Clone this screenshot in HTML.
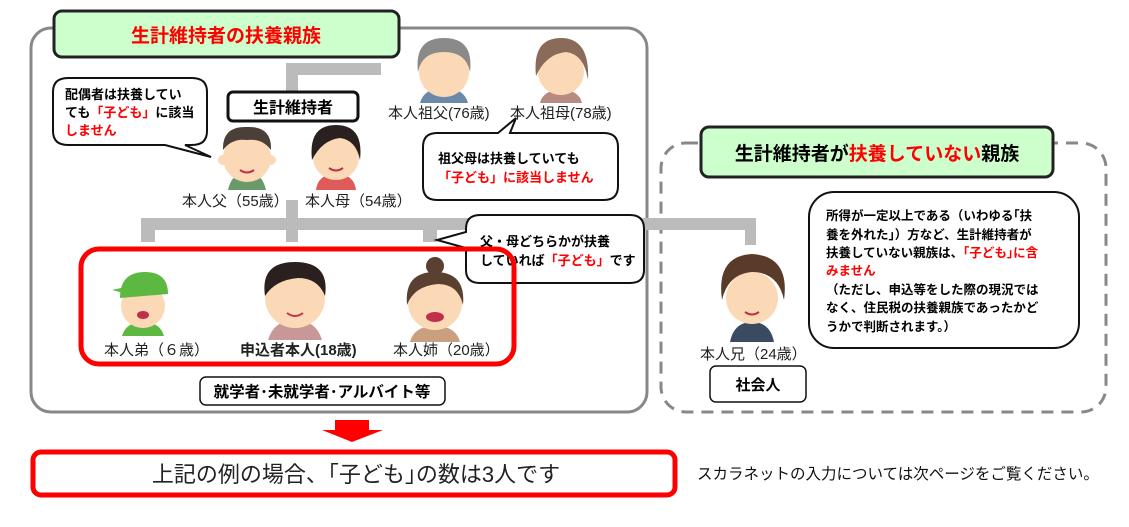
<!DOCTYPE html>
<html><head><meta charset="utf-8"><style>
html,body{margin:0;padding:0;background:#fff;}
svg{display:block;font-family:"Liberation Sans","Noto Sans CJK JP",sans-serif;}
.b{font-weight:bold;}
</style></head><body>
<svg width="1129" height="527" viewBox="0 0 1129 527" xmlns="http://www.w3.org/2000/svg">
<rect x="31" y="28" width="616" height="384" rx="20" fill="#fff" stroke="#888" stroke-width="3"/>
<rect x="661" y="143" width="445" height="269" rx="25" fill="none" stroke="#888" stroke-width="3" stroke-dasharray="12,8"/>
<g fill="#bbb">
<rect x="286" y="63" width="95" height="12"/>
<rect x="286" y="63" width="12" height="30"/>
<rect x="286" y="200" width="12" height="42"/>
<rect x="141" y="218" width="615" height="12"/>
<rect x="141" y="218" width="14" height="24"/>
<rect x="423" y="218" width="14" height="24"/>
<rect x="745" y="218" width="11" height="27"/>
</g>
<rect x="54" y="11" width="345" height="46" rx="8" fill="#ccffcc" stroke="#222" stroke-width="3"/>
<text x="226" y="42" text-anchor="middle" font-size="19" class="b" fill="#f00">生計維持者の扶養親族</text>
<rect x="228" y="92" width="130" height="29" rx="5" fill="#fff" stroke="#111" stroke-width="3"/>
<text x="293" y="113" text-anchor="middle" font-size="16" class="b">生計維持者</text>
<path d="M68,78 H192 Q207,78 207,92 V131 Q207,145 192,145 H185 L211,157 L165,145 H68 Q53,145 53,131 V92 Q53,78 68,78 Z" fill="#fff" stroke="#111" stroke-width="2"/>
<text font-size="13" class="b"><tspan x="65" y="99">配偶者は扶養してい</tspan><tspan x="65" y="117">ても<tspan fill="#f00">「子ども」</tspan>に該当</tspan><tspan x="65" y="135" fill="#f00">しません</tspan></text>
<path d="M437,133 H498 L516,118 L510,133 H604 Q618,133 618,147 V186 Q618,200 604,200 H437 Q423,200 423,186 V147 Q423,133 437,133 Z" fill="#fff" stroke="#111" stroke-width="2"/>
<text font-size="13" class="b"><tspan x="438" y="163">祖父母は扶養していても</tspan><tspan x="438" y="182" fill="#f00">「子ども」に該当しません</tspan></text>
<path d="M480,215 H630 Q644,215 644,229 V270 Q644,283 630,283 H480 Q466,283 466,270 V248 L437,240 L466,232 V229 Q466,215 480,215 Z" fill="#fff" stroke="#111" stroke-width="2"/>
<text font-size="13" class="b"><tspan x="480" y="246">父・母どちらかが扶養</tspan><tspan x="480" y="265">していれば<tspan fill="#f00">「子ども」</tspan>です</tspan></text>
<rect x="81" y="249" width="433" height="115" rx="18" fill="none" stroke="#f00" stroke-width="5"/>
<g>
<path d="M228,190 Q232,172 247,172 Q262,172 266,190 Z" fill="#6a9a6a"/>
<circle cx="247" cy="158" r="24" fill="#fcd9b6"/><circle cx="223" cy="160" r="5" fill="#fcd9b6"/><circle cx="271" cy="160" r="5" fill="#fcd9b6"/>
<path d="M223,150 Q222,126 247,127 Q272,126 271,150 Q262,138 247,140 Q232,138 223,150 Z" fill="#4a4038"/>
<path d="M240,170 Q247,175 254,170" stroke="#c0304a" stroke-width="2" fill="none"/>
<path d="M316,190 Q318,174 336,174 Q354,174 356,190 Z" fill="#e05a5a"/>
<circle cx="336" cy="157" r="23" fill="#fcd9b6"/>
<path d="M312,160 Q308,125 336,125 Q364,125 360,160 Q356,140 340,138 Q322,140 312,160 Z" fill="#2a2020"/>
<path d="M329,168 Q336,173 343,168" stroke="#c0304a" stroke-width="2" fill="none"/>
<path d="M420,103 Q424,88 444,88 Q464,88 468,103 Z" fill="#6a8aa8"/>
<circle cx="444" cy="72" r="25" fill="#fcd9b6"/>
<path d="M418,72 Q414,38 444,38 Q474,38 470,72 Q466,52 444,52 Q422,52 418,72 Z" fill="#8a8a8a"/>
<path d="M540,103 Q543,90 561,90 Q579,90 582,103 Z" fill="#b88a80"/>
<circle cx="561" cy="72" r="23" fill="#fcd9b6"/>
<path d="M536,76 Q532,38 561,38 Q590,38 588,80 Q584,54 566,52 Q546,54 536,76 Z" fill="#8a6a58"/>
<path d="M122,336 Q126,322 143,322 Q160,322 164,336 Z" fill="#5cb840"/>
<circle cx="143" cy="306" r="22" fill="#fcd9b6"/>
<path d="M120,298 Q120,272 145,272 Q168,272 168,294 Z M112,290 L130,286 L128,294 Z" fill="#5cb840"/>
<ellipse cx="143" cy="315" rx="6" ry="4" fill="#c0304a"/>
<path d="M268,340 Q274,320 295,320 Q316,320 322,340 Z" fill="#c89898"/>
<circle cx="295" cy="298" r="30" fill="#fcd9b6"/>
<path d="M265,296 Q260,262 295,262 Q330,262 325,296 Q318,278 298,278 Q275,280 265,296 Z" fill="#2a2020"/>
<path d="M287,313 Q295,319 303,313" stroke="#c0304a" stroke-width="2" fill="none"/>
<path d="M410,342 Q414,326 435,326 Q456,326 460,342 Z" fill="#c8a080"/>
<circle cx="435" cy="303" r="27" fill="#fcd9b6"/>
<circle cx="435" cy="266" r="9" fill="#5a4030"/>
<path d="M407,305 Q404,272 435,272 Q466,272 463,305 Q458,284 438,284 Q414,286 407,305 Z" fill="#5a4030"/>
<ellipse cx="435" cy="317" rx="9" ry="5" fill="#c0304a"/>
<path d="M730,342 Q734,322 752,322 Q770,322 774,342 Z" fill="#3a4a60"/>
<circle cx="752" cy="298" r="26" fill="#fcd9b6"/>
<path d="M722,300 Q716,256 752,254 Q790,256 784,300 Q778,272 752,272 Q728,274 722,300 Z" fill="#5a3a28"/>
<path d="M745,312 Q752,317 759,312" stroke="#c0304a" stroke-width="2" fill="none"/>
</g>
<g font-size="15" fill="#222">
<text x="182" y="206">本人父（55歳）</text>
<text x="305" y="206">本人母（54歳）</text>
<text x="388" y="118">本人祖父(76歳)</text>
<text x="510" y="118">本人祖母(78歳)</text>
<text x="104" y="355">本人弟（６歳）</text>
<text x="240" y="355" class="b">申込者本人(18歳)</text>
<text x="393" y="355">本人姉（20歳）</text>
<text x="700" y="359">本人兄（24歳）</text>
</g>
<rect x="200" y="377" width="245" height="28" rx="6" fill="#fff" stroke="#111" stroke-width="1.5"/>
<text x="322" y="397" text-anchor="middle" font-size="15.5" class="b">就学者･未就学者･アルバイト等</text>
<rect x="710" y="366" width="96" height="36" rx="6" fill="#fff" stroke="#111" stroke-width="1.5"/>
<text x="758" y="390" text-anchor="middle" font-size="15" class="b">社会人</text>
<rect x="701" y="127" width="352" height="50" rx="8" fill="#ccffcc" stroke="#222" stroke-width="3"/>
<text x="877" y="160" text-anchor="middle" font-size="19" class="b">生計維持者が<tspan fill="#f00">扶養していない</tspan>親族</text>
<rect x="809" y="192" width="270" height="156" rx="25" fill="#fff" stroke="#111" stroke-width="2"/>
<text font-size="12.5" class="b"><tspan x="826" y="220">所得が一定以上である（いわゆる｢扶</tspan><tspan x="826" y="239">養を外れた｣）方など、生計維持者が</tspan><tspan x="826" y="257">扶養していない親族は、<tspan fill="#f00">｢子ども｣に含</tspan></tspan><tspan x="826" y="275" fill="#f00">みません</tspan><tspan x="826" y="294">（ただし、申込等をした際の現況では</tspan><tspan x="826" y="312">なく、住民税の扶養親族であったかど</tspan><tspan x="826" y="331">うかで判断されます。）</tspan></text>
<path d="M335,420 H369 V430 H383 L352,442 L322,430 H335 Z" fill="#f00"/>
<rect x="33" y="452" width="642" height="43" rx="8" fill="#fff" stroke="#f00" stroke-width="5"/>
<text x="356" y="482" text-anchor="middle" font-size="22" fill="#222">上記の例の場合、｢子ども｣の数は3人です</text>
<text x="697" y="479" font-size="15.5" fill="#111">スカラネットの入力については次ページをご覧ください。</text>
</svg>
</body></html>
